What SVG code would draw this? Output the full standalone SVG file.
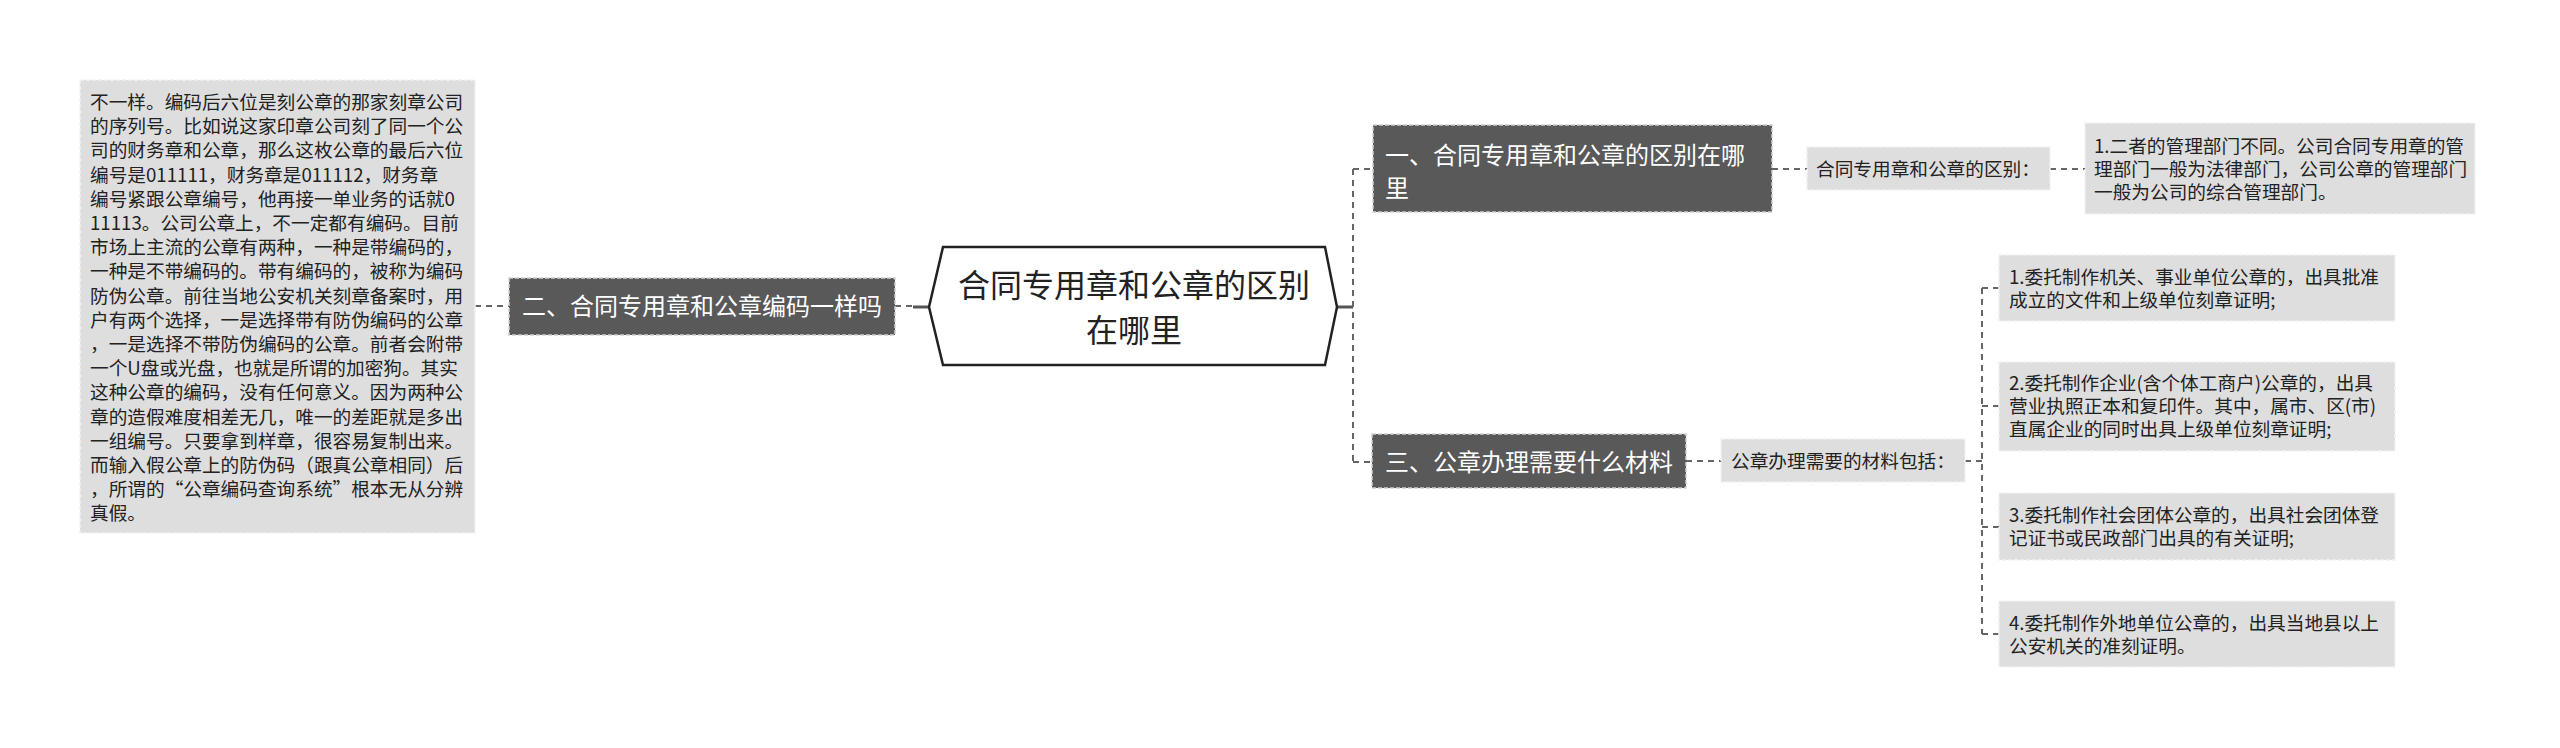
<svg xmlns="http://www.w3.org/2000/svg" width="2560" height="748" viewBox="0 0 2560 748">
<style>
text{font-family:"Noto Sans CJK SC","Microsoft YaHei",sans-serif;}
.dark{fill:#595959;stroke:#d0d0d0;stroke-width:1.5;stroke-dasharray:4 2;}
.light{fill:#dedede;stroke:#f2f2f2;stroke-width:1.5;stroke-dasharray:4 2;}
.tw{fill:#ffffff;font-size:24px;}
.tb{fill:#222222;font-size:18.67px;}
.tc{fill:#222222;font-size:32px;text-anchor:middle;}
.con{fill:none;stroke:#666666;stroke-width:2;stroke-dasharray:6 5;}
.sol{fill:none;stroke:#555555;stroke-width:3;}
</style>
<rect width="2560" height="748" fill="#ffffff"/>
<g id="connectors">
<path class="con" d="M475 306 H509"/>
<path class="con" d="M895 306 H915"/>
<path class="sol" d="M913 307 H929"/>
<path class="sol" d="M1337 307 H1353"/>
<path class="con" d="M1353 169 V462"/>
<path class="con" d="M1353 169 H1373"/>
<path class="con" d="M1353 462 H1372"/>
<path class="con" d="M1772 169 H1807"/>
<path class="con" d="M2050 169 H2085"/>
<path class="con" d="M1686 461 H1721"/>
<path class="con" d="M1965 461 H1982"/>
<path class="con" d="M1982 288 V634"/>
<path class="con" d="M1982 288 H1999"/>
<path class="con" d="M1982 406 H1999"/>
<path class="con" d="M1982 527 H1999"/>
<path class="con" d="M1982 634 H1999"/>
</g>
<g id="center">
<polygon points="929,307 943,247 1325,247 1337,307 1325,365 943,365" fill="#ffffff" stroke="#222222" stroke-width="2.5"/>
<text class="tc" x="1134" y="297">合同专用章和公章的区别</text>
<text class="tc" x="1134" y="342">在哪里</text>
</g>
<g id="left-node">
<rect class="dark" x="509" y="278" width="386" height="57"/>
<text class="tw" x="522" y="315">二、合同专用章和公章编码一样吗</text>
</g>
<g id="left-text">
<rect class="light" x="80" y="80" width="395" height="453"/>
<text class="tb">
<tspan x="90" y="109">不一样。编码后六位是刻公章的那家刻章公司</tspan>
<tspan x="90" y="133.2">的序列号。比如说这家印章公司刻了同一个公</tspan>
<tspan x="90" y="157.4">司的财务章和公章，那么这枚公章的最后六位</tspan>
<tspan x="90" y="181.6">编号是011111，财务章是011112，财务章</tspan>
<tspan x="90" y="205.8">编号紧跟公章编号，他再接一单业务的话就0</tspan>
<tspan x="90" y="230">11113。公司公章上，不一定都有编码。目前</tspan>
<tspan x="90" y="254.2">市场上主流的公章有两种，一种是带编码的，</tspan>
<tspan x="90" y="278.4">一种是不带编码的。带有编码的，被称为编码</tspan>
<tspan x="90" y="302.6">防伪公章。前往当地公安机关刻章备案时，用</tspan>
<tspan x="90" y="326.8">户有两个选择，一是选择带有防伪编码的公章</tspan>
<tspan x="90" y="351">，一是选择不带防伪编码的公章。前者会附带</tspan>
<tspan x="90" y="375.2">一个U盘或光盘，也就是所谓的加密狗。其实</tspan>
<tspan x="90" y="399.4">这种公章的编码，没有任何意义。因为两种公</tspan>
<tspan x="90" y="423.6">章的造假难度相差无几，唯一的差距就是多出</tspan>
<tspan x="90" y="447.8">一组编号。只要拿到样章，很容易复制出来。</tspan>
<tspan x="90" y="472">而输入假公章上的防伪码（跟真公章相同）后</tspan>
<tspan x="90" y="496.2">，所谓的“公章编码查询系统”根本无从分辨</tspan>
<tspan x="90" y="520.4">真假。</tspan>
</text>
</g>
<g id="node-1">
<rect class="dark" x="1373" y="125" width="399" height="87"/>
<text class="tw" x="1385" y="164">一、合同专用章和公章的区别在哪</text>
<text class="tw" x="1385" y="197">里</text>
</g>
<g id="label-1">
<rect class="light" x="1807" y="147" width="243" height="43"/>
<text class="tb" x="1816" y="175.5">合同专用章和公章的区别：</text>
</g>
<g id="box-1">
<rect class="light" x="2085" y="123" width="390" height="91"/>
<text class="tb">
<tspan x="2094" y="152.5">1.二者的管理部门不同。公司合同专用章的管</tspan>
<tspan x="2094" y="175.5">理部门一般为法律部门，公司公章的管理部门</tspan>
<tspan x="2094" y="198.5">一般为公司的综合管理部门。</tspan>
</text>
</g>
<g id="node-3">
<rect class="dark" x="1372" y="434" width="314" height="54"/>
<text class="tw" x="1385" y="471">三、公章办理需要什么材料</text>
</g>
<g id="label-3">
<rect class="light" x="1721" y="439" width="244" height="43"/>
<text class="tb" x="1731" y="467.5">公章办理需要的材料包括：</text>
</g>
<g id="item-1">
<rect class="light" x="1999" y="255" width="396" height="66"/>
<text class="tb">
<tspan x="2009" y="283.5">1.委托制作机关、事业单位公章的，出具批准</tspan>
<tspan x="2009" y="306.5">成立的文件和上级单位刻章证明;</tspan>
</text>
</g>
<g id="item-2">
<rect class="light" x="1999" y="362" width="396" height="89"/>
<text class="tb">
<tspan x="2009" y="390">2.委托制作企业(含个体工商户)公章的，出具</tspan>
<tspan x="2009" y="413">营业执照正本和复印件。其中，属市、区(市)</tspan>
<tspan x="2009" y="436">直属企业的同时出具上级单位刻章证明;</tspan>
</text>
</g>
<g id="item-3">
<rect class="light" x="1999" y="493" width="396" height="67"/>
<text class="tb">
<tspan x="2009" y="522">3.委托制作社会团体公章的，出具社会团体登</tspan>
<tspan x="2009" y="545">记证书或民政部门出具的有关证明;</tspan>
</text>
</g>
<g id="item-4">
<rect class="light" x="1999" y="601" width="396" height="66"/>
<text class="tb">
<tspan x="2009" y="629.5">4.委托制作外地单位公章的，出具当地县以上</tspan>
<tspan x="2009" y="652.5">公安机关的准刻证明。</tspan>
</text>
</g>
</svg>
